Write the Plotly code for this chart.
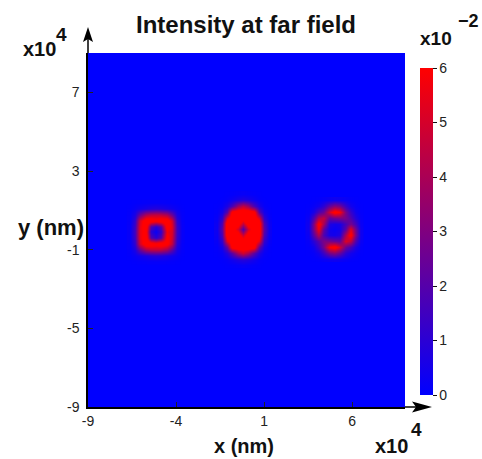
import plotly.graph_objects as go

# ---- data (x, y in units of 1e4 nm; intensity in units of 1e-2) ----
SPOT_X = [-5.15, -0.2, 5.0]
SPOT_Y = [-0.1, 0.03, 0.03]
GRID11 = [-1.5, -1.2, -0.9, -0.6, -0.3, 0.0, 0.3, 0.6, 0.9, 1.2, 1.5]
GRID13 = [-1.8, -1.5, -1.2, -0.9, -0.6, -0.3, 0.0, 0.3, 0.6, 0.9, 1.2, 1.5, 1.8]

LEFT_SPOT = [
    [0.00, 0.03, 0.05, 0.08, 0.10, 0.10, 0.10, 0.08, 0.05, 0.03, 0.00],
    [0.04, 0.20, 0.40, 0.60, 0.80, 0.90, 0.80, 0.60, 0.40, 0.20, 0.04],
    [0.08, 0.60, 2.50, 4.00, 4.50, 4.60, 4.50, 3.80, 2.30, 0.60, 0.08],
    [0.10, 1.10, 5.00, 7.00, 7.00, 6.50, 7.00, 6.50, 4.60, 1.00, 0.10],
    [0.15, 1.40, 5.40, 7.00, 2.00, 1.00, 2.00, 6.50, 5.00, 1.30, 0.15],
    [0.15, 1.50, 5.50, 6.50, 1.00, 0.20, 1.20, 5.80, 5.20, 1.40, 0.15],
    [0.15, 1.40, 5.40, 7.00, 2.00, 1.00, 2.00, 6.80, 5.40, 1.40, 0.15],
    [0.10, 1.10, 5.00, 7.00, 7.00, 6.50, 7.00, 7.00, 5.00, 1.10, 0.10],
    [0.08, 0.60, 2.50, 4.00, 4.50, 4.60, 4.50, 4.00, 2.50, 0.60, 0.08],
    [0.04, 0.20, 0.40, 0.60, 0.80, 0.90, 0.80, 0.60, 0.40, 0.20, 0.04],
    [0.00, 0.03, 0.05, 0.08, 0.10, 0.10, 0.10, 0.08, 0.05, 0.03, 0.00],
]

MID_SPOT = [
    [0.00, 0.00, 0.02, 0.05, 0.10, 0.15, 0.10, 0.05, 0.02, 0.00, 0.00],
    [0.00, 0.03, 0.15, 0.45, 0.80, 1.00, 0.80, 0.45, 0.15, 0.03, 0.00],
    [0.03, 0.15, 0.80, 2.10, 4.00, 4.90, 4.00, 2.10, 0.80, 0.15, 0.03],
    [0.05, 0.50, 2.40, 6.50, 7.00, 7.00, 7.00, 6.50, 2.40, 0.50, 0.05],
    [0.15, 1.20, 5.40, 7.00, 7.00, 7.00, 7.00, 7.00, 5.40, 1.20, 0.15],
    [0.25, 1.80, 7.00, 7.00, 7.00, 4.80, 7.00, 7.00, 7.00, 1.80, 0.25],
    [0.30, 2.20, 7.00, 7.00, 5.00, 1.80, 5.00, 7.00, 7.00, 2.20, 0.30],
    [0.25, 1.80, 7.00, 7.00, 7.00, 4.80, 7.00, 7.00, 7.00, 1.80, 0.25],
    [0.15, 1.10, 5.20, 7.00, 7.00, 7.00, 7.00, 7.00, 5.20, 1.10, 0.15],
    [0.05, 0.45, 2.10, 6.50, 7.00, 7.00, 7.00, 6.50, 2.10, 0.45, 0.05],
    [0.03, 0.12, 0.65, 1.80, 3.70, 4.60, 3.70, 1.80, 0.65, 0.12, 0.03],
    [0.00, 0.03, 0.12, 0.37, 0.70, 0.90, 0.70, 0.37, 0.12, 0.03, 0.00],
    [0.00, 0.00, 0.02, 0.05, 0.10, 0.15, 0.10, 0.05, 0.02, 0.00, 0.00],
]

RIGHT_SPOT = [
    [0.00, 0.02, 0.07, 0.18, 0.30, 0.36, 0.28, 0.15, 0.06, 0.02, 0.00],
    [0.02, 0.12, 0.45, 1.40, 2.80, 3.20, 2.40, 1.00, 0.45, 0.16, 0.02],
    [0.05, 0.33, 1.30, 2.80, 5.90, 6.60, 5.00, 2.50, 1.70, 0.60, 0.08],
    [0.12, 0.95, 2.00, 2.90, 2.80, 2.50, 2.30, 5.20, 4.50, 1.80, 0.22],
    [0.24, 2.10, 4.20, 1.80, 0.55, 0.45, 0.75, 4.10, 6.50, 2.80, 0.30],
    [0.34, 2.90, 5.90, 2.30, 0.40, 0.20, 0.40, 2.20, 5.30, 2.60, 0.30],
    [0.32, 2.90, 6.50, 3.90, 0.70, 0.45, 0.55, 1.70, 2.80, 1.60, 0.20],
    [0.21, 1.80, 4.20, 4.60, 2.30, 2.70, 2.90, 2.80, 1.90, 0.80, 0.12],
    [0.08, 0.55, 1.80, 2.50, 5.00, 6.60, 5.90, 2.80, 1.30, 0.35, 0.05],
    [0.02, 0.16, 0.42, 1.05, 2.40, 3.20, 2.80, 1.30, 0.45, 0.12, 0.02],
    [0.00, 0.02, 0.06, 0.15, 0.28, 0.36, 0.30, 0.18, 0.07, 0.02, 0.00],
]

X_TICKS = [-9, -4, 1, 6]
Y_TICKS = [-9, -5, -1, 3, 7]
CBAR_TICKS = [0, 1, 2, 3, 4, 5, 6]
AXIS_RANGE = [-9, 9]

# ---- layout geometry (pixels) ----
W, H = 482, 459
L, R, T, B = 88, 77, 53, 52
PW, PH = W - L - R, H - T - B


def px(xp):
    return (xp - L) / PW


def py(yp):
    return (H - B - yp) / PH


FONT = "Liberation Sans"

fig = go.Figure()
spots = [(LEFT_SPOT, GRID11, GRID11), (MID_SPOT, GRID11, GRID13), (RIGHT_SPOT, GRID11, GRID11)]
for (z, gx, gy), cx, cy in zip(spots, SPOT_X, SPOT_Y):
    fig.add_trace(go.Heatmap(
        x=[cx + o for o in gx], y=[cy + o for o in gy], z=z,
        coloraxis="coloraxis", zsmooth="best", hoverinfo="skip",
    ))

axis_common = dict(
    range=AXIS_RANGE, showgrid=False, zeroline=False,
    showline=True, linecolor="black", linewidth=1.5,
    ticks="inside", ticklen=5, tickwidth=1, tickcolor="#222",
    tickfont=dict(family=FONT, size=14, color="#222"),
)

fig.update_layout(
    width=W, height=H,
    margin=dict(l=L, r=R, t=T, b=B, pad=0, autoexpand=False),
    paper_bgcolor="white", plot_bgcolor="rgb(0,0,255)",
    showlegend=False,
    title=dict(text="Intensity at far field", x=px(246), xanchor="center",
               xref="paper", y=1 - 25 / H, yanchor="middle", yref="container",
               font=dict(family=FONT, size=24, color="#111", weight="bold")),
    xaxis=dict(axis_common, tickvals=X_TICKS, ticktext=[str(v) for v in X_TICKS]),
    yaxis=dict(axis_common, tickvals=Y_TICKS, ticktext=[str(v) for v in Y_TICKS],
               ticklabelstandoff=4),
    coloraxis=dict(
        cmin=0, cmax=6,
        colorscale=[[0, "rgb(0,0,255)"], [1, "rgb(255,0,0)"]],
        colorbar=dict(
            x=px(420), xanchor="left", xpad=0, thickness=13,
            y=py(231.5), yanchor="middle", ypad=0, len=327 / PH, lenmode="fraction",
            tickvals=CBAR_TICKS, ticktext=[str(v) for v in CBAR_TICKS],
            ticks="outside", ticklen=4, tickcolor="#111", outlinewidth=0,
            tickfont=dict(family=FONT, size=14, color="#222"),
        ),
    ),
)

bold = dict(family=FONT, color="#111", weight="bold")
ann = [
    dict(text="x (nm)", x=px(244), y=py(446), font=dict(bold, size=20)),
    dict(text="y (nm)", x=px(86), y=py(227), xanchor="right", font=dict(bold, size=22)),
    dict(text="x10", x=px(39.5), y=py(49), font=dict(bold, size=20)),
    dict(text="4", x=px(61.5), y=py(35), font=dict(bold, size=19)),
    dict(text="x10", x=px(391.5), y=py(446), font=dict(bold, size=20)),
    dict(text="4", x=px(416.5), y=py(430), font=dict(bold, size=19)),
    dict(text="x10", x=px(436), y=py(38.5), font=dict(bold, size=19)),
    dict(text="\u22122", x=px(468), y=py(21), font=dict(bold, size=18)),
]
for a in ann:
    a.setdefault("xanchor", "center")
    fig.add_annotation(xref="paper", yref="paper", yanchor="middle", showarrow=False, **a)

# axis arrows
line = dict(color="black", width=1.5)
fig.add_shape(type="line", xref="paper", yref="paper", x0=px(88), y0=py(53), x1=px(88), y1=py(36), line=line)
fig.add_shape(type="line", xref="paper", yref="paper", x0=px(405), y0=py(407), x1=px(420), y1=py(407), line=line)
fig.add_shape(type="path", xref="paper", yref="paper", fillcolor="black", line=dict(width=0),
              path=f"M {px(88)},{py(27)} L {px(83)},{py(42)} L {px(88)},{py(39)} L {px(93)},{py(42)} Z")
fig.add_shape(type="path", xref="paper", yref="paper", fillcolor="black", line=dict(width=0),
              path=f"M {px(432)},{py(407)} L {px(412)},{py(401.5)} L {px(416)},{py(407)} L {px(412)},{py(412.5)} Z")

fig.write_html("out.html", config={"displayModeBar": False},
               post_script="document.body.style.margin='0';document.body.style.padding='0';")
